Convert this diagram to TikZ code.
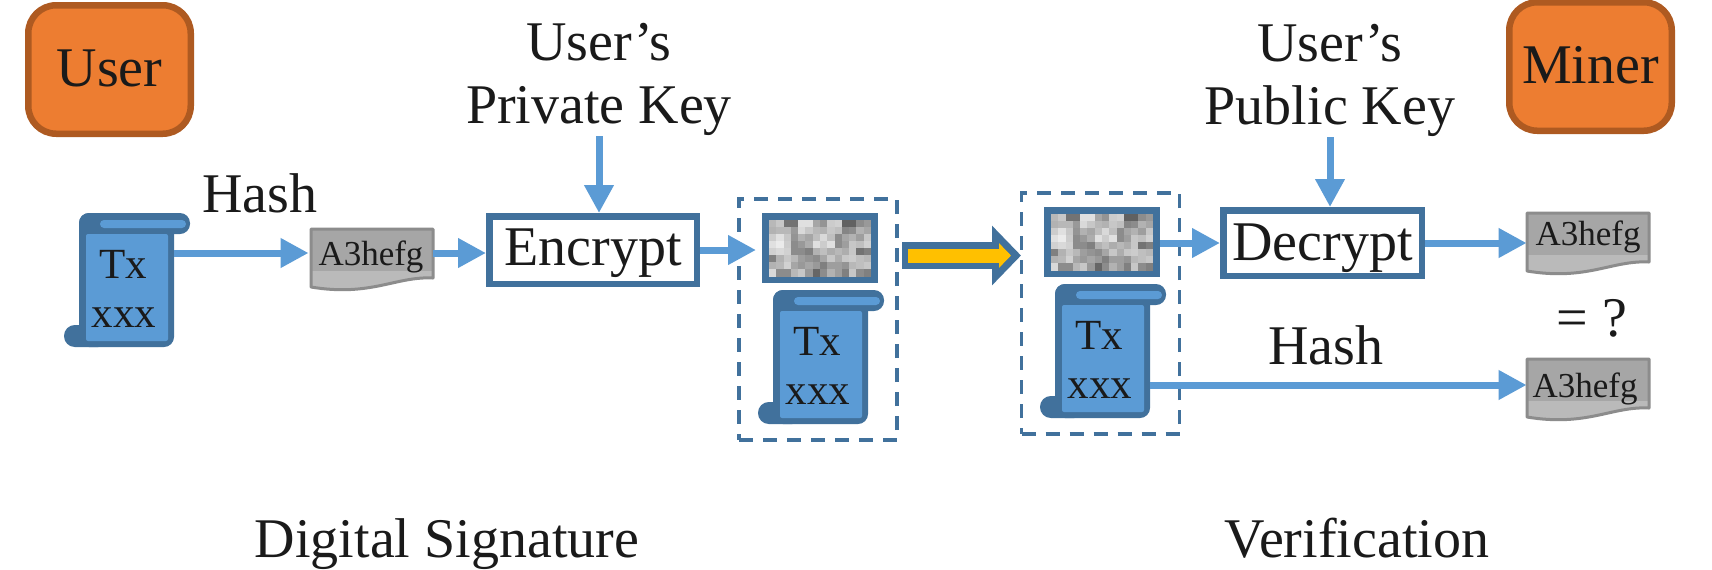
\documentclass[tikz,border=0pt]{standalone}
\usepackage{fontspec}
\setmainfont{Liberation Serif}
\usetikzlibrary{arrows.meta,calc}
\definecolor{bluelight}{HTML}{5B9BD5}
\definecolor{bluedark}{HTML}{41719C}
\definecolor{orangefill}{HTML}{ED7D31}
\definecolor{orangedark}{HTML}{AE5A21}
\definecolor{ink}{HTML}{1A1A1A}
\definecolor{yellowfill}{HTML}{FFC000}
\definecolor{docdark}{HTML}{A6A6A6}
\definecolor{doclight}{HTML}{BABABA}
\definecolor{docedge}{HTML}{8C8C8C}
\newcommand{\bigfont}{\fontsize{28}{31.5}\selectfont}
\newcommand{\txfont}{\fontsize{21.5}{24}\selectfont}
\newcommand{\docfont}{\fontsize{17.5}{20}\selectfont}
\tikzset{
  x=0.5pt,y=-0.5pt,
  txt/.style={text=ink,inner sep=0pt,font=\bigfont},
  actor/.style={draw=orangedark,fill=orangefill,line width=3.25pt,rounded corners=14pt,inner sep=0pt,
     minimum width=81.25pt,minimum height=64.25pt,text=ink,font=\bigfont,text height=19pt,text depth=2.5pt},
  opbox/.style={draw=bluedark,fill=white,line width=3.25pt,inner sep=0pt,text=ink,font=\bigfont},
  dashbox/.style={draw=bluedark,line width=1.9pt,dash pattern=on 7pt off 5pt,inner sep=0pt,minimum width=79pt,minimum height=120.5pt},
  flow/.style={draw=bluelight,line width=3.5pt,-{Triangle[length=14pt,width=14pt]}},
}
\newcommand{\scrollicon}[3]{%
  \begin{scope}[shift={(#2,#3)}]
    \fill[bluedark,rounded corners=5pt] (0,0) rectangle (111,21);
    \fill[bluedark,rounded corners=5pt] (0,0) rectangle (95,134);
    \fill[bluedark,rounded corners=5.4pt] (-15,112) rectangle (30,134);
    \fill[bluelight,rounded corners=1pt] (7,21) rectangle (89,128);
    \fill[bluelight,rounded corners=2pt] (21,7) rectangle (107,15);
    \node[inner sep=0pt,minimum width=47.5pt,minimum height=67pt] (#1) at (47.5,67) {};
    \node[anchor=base,inner sep=0pt,text=ink,font=\txfont] (#1-a) at (44,65) {Tx};
    \node[anchor=base,inner sep=0pt,text=ink,font=\txfont] (#1-b) at (45,114) {xxx};
  \end{scope}}
% name, x, y, text x offset, text baseline offset
\newcommand{\docicon}[5]{%
  \begin{scope}[shift={(#2,#3)}]
    \fill[doclight] (0,0) -- (122,0) -- (122,49)
      .. controls (85,47) and (60,68) .. (0,58) -- cycle;
    \fill[docdark] (0,0) rectangle (122,42);
    \draw[docedge,line width=1.5pt,line join=round] (0,0) -- (122,0) -- (122,49)
      .. controls (85,47) and (60,68) .. (0,58) -- cycle;
    \node[inner sep=0pt,minimum width=61pt,minimum height=24pt] (#1) at (61,24) {};
    \node[anchor=base,inner sep=0pt,text=ink,font=\docfont] (#1-t) at (#4,#5) {A3hefg};
  \end{scope}}
\newcommand{\ciphericon}[3]{%
  \node[draw=bluedark,line width=3.5pt,inner sep=0pt,minimum width=54.5pt,minimum height=31.5pt] (#1) at (#2,#3) {};
  \begin{scope}[shift={(#2,#3)}]
    \foreach \rowvals [count=\rr from 0] in {
      {72,78,45,45,88,88,65,58,80,82,38,38,55,60},
      {70,72,72,60,85,78,72,70,78,75,52,55,70,65},
      {80,88,78,58,70,65,75,85,75,55,65,70,62,78},
      {88,92,80,55,60,68,88,80,88,55,62,78,75,82},
      {82,85,82,55,55,50,70,75,68,72,68,78,45,50},
      {50,70,78,72,62,58,55,65,78,68,78,80,75,72},
      {70,72,82,65,60,65,60,50,62,62,58,72,75,78},
      {85,55,55,72,78,60,40,55,70,62,50,78,55,50}} {
      \foreach \vv [count=\cc from 0] in \rowvals {
        \fill[white!\vv!black] ({-51+\cc*7.29},{-28.5+\rr*7.125}) rectangle ++(7.6,7.4);
      }
    }
  \end{scope}}
\begin{document}
\begin{tikzpicture}
\fill[white] (0,0) rectangle (1712,569);
\useasboundingbox (0,0) rectangle (1712,569);
% actors
\node[actor] (user) at (109.5,69.5) {User\hspace{2.5pt}};
\node[actor] (miner) at (1590.5,66.5) {Miner};
% containers
\node[dashbox] (d1) at (818,319.5) {};
\node[dashbox] (d2) at (1100.5,313.5) {};
% icons
\scrollicon{s1}{79}{213}
\scrollicon{s2}{773}{290}
\scrollicon{s3}{1055}{284}
\docicon{h1}{311}{229}{60}{36}
\docicon{h2}{1527}{213}{61}{32}
\docicon{h3}{1527}{359}{58}{38}
\ciphericon{c1}{820}{248}
\ciphericon{c2}{1102}{242}
% operations
\node[opbox,minimum width=103.75pt,minimum height=33.75pt,text height=19pt,text depth=4pt] (enc) at (593,250) {Encrypt};
\node[opbox,minimum width=99.25pt,minimum height=32.75pt,text height=19pt,text depth=2pt] (dec) at (1322.5,243) {Decrypt};
% labels
\node[txt,align=center,anchor=south] (pk) at (599,136) {User’s\\Private Key};
\node[txt,align=center,anchor=south] (ub) at (1330,137) {User’s\\Public Key};
\node[txt,anchor=base] (hash1) at (260,212) {Hash};
\node[txt,anchor=base] (hash2) at (1326,364) {Hash};
\node[txt,anchor=base] (eq) at (1592,336) {= ?};
\node[txt,anchor=base] (ds) at (447,557) {Digital Signature};
\node[txt,anchor=base] (vf) at (1357,557) {Verification};
% connectors
\draw[flow] (s1.east |- h1.west) -- ([xshift=-1pt]h1.west);
\draw[flow] (h1.east) -- (h1.east -| enc.west);
\draw[flow,shorten >=3pt] (enc.east) -- (enc.east -| c1.west);
\draw[flow] (pk.south) -- (pk.south |- enc.north);
\draw[flow] (ub.south) -- (ub.south |- dec.north);
\draw[flow] (c2.east |- dec.west) -- (dec.west);
\draw[flow] (dec.east) -- (dec.east -| h2.west);
\draw[flow] (s3.east |- 0,385) -- (h3.west |- 0,385);
% transfer arrow
\coordinate (ts) at (902,255.5);
\coordinate (te) at (1021,255.5);
\coordinate (ys) at (908,255.5);
\coordinate (ye) at (1011,255.5);
\draw[bluedark,line width=13.5pt,-{Triangle[length=14.5pt,width=29pt]}] (ts) -- (te);
\draw[yellowfill,line width=7pt,-{Triangle[length=6pt,width=12pt]}] (ys) -- (ye);
\end{tikzpicture}
\end{document}
